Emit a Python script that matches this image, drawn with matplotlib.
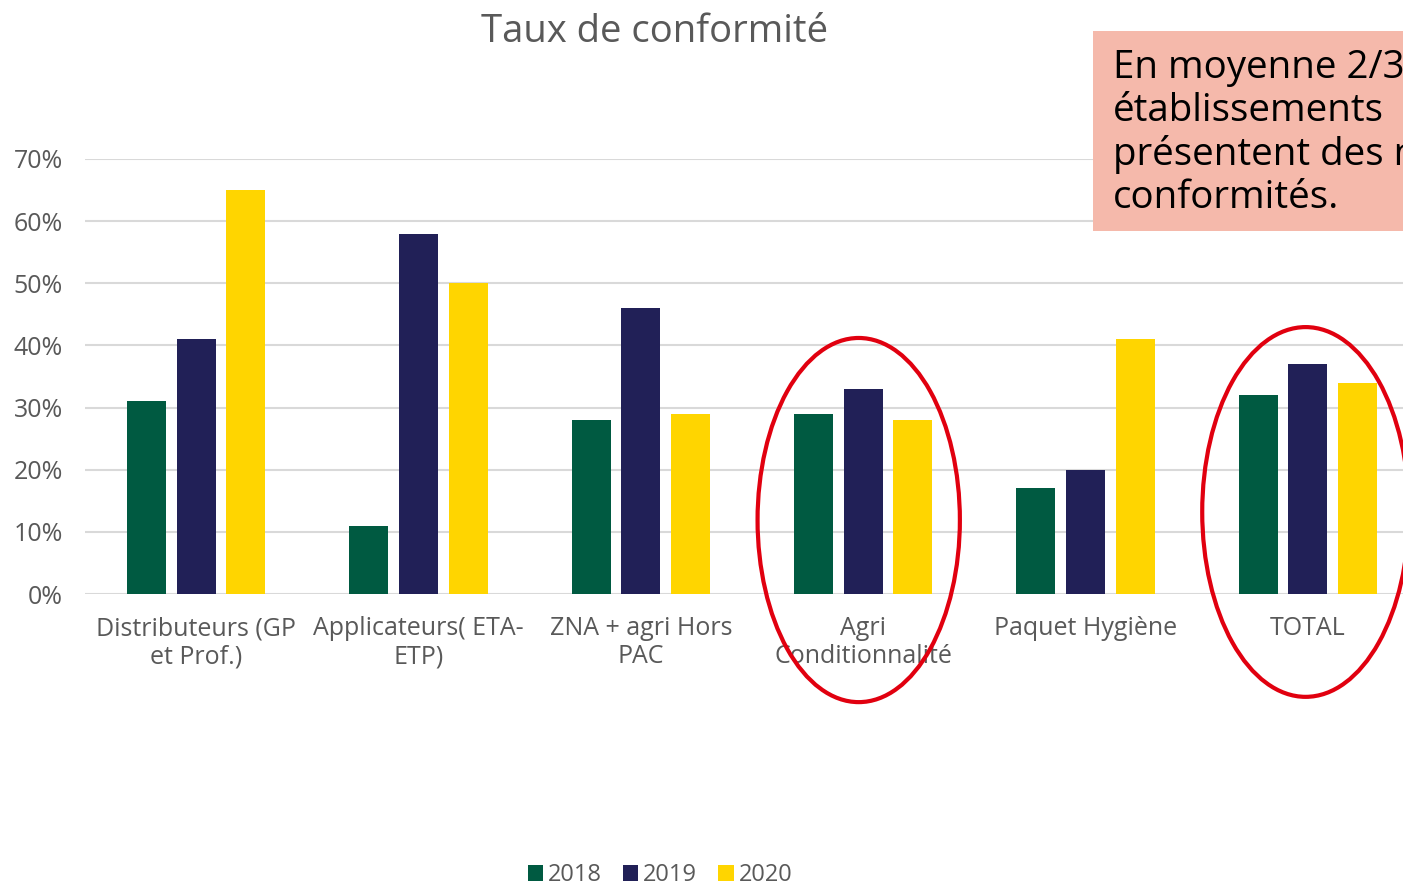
import numpy as np
import matplotlib.pyplot as plt
from matplotlib.patches import Ellipse, Rectangle
from matplotlib.ticker import PercentFormatter

# Données
categories = ['Distributeurs (GP\net Prof.)', 'Applicateurs( ETA-\nETP)', 'ZNA + agri Hors\nPAC',
              'Agri\nConditionnalité', 'Paquet Hygiène', 'TOTAL']
years = ['2018', '2019', '2020']
taux_2018 = [0.31, 0.11, 0.28, 0.29, 0.17, 0.32]
taux_2019 = [0.41, 0.58, 0.46, 0.33, 0.20, 0.37]
taux_2020 = [0.65, 0.50, 0.29, 0.28, 0.41, 0.34]
colors = ['#005A41', '#212057', '#FFD500']

plt.rcParams['font.family'] = ['Open Sans', 'DejaVu Sans']
grey = '#595959'

fig = plt.figure(figsize=(14.03, 8.88), dpi=100)
ax = fig.add_axes([85 / 1403, 294 / 888, 1334 / 1403, 435 / 888])

x = np.arange(len(categories))
w = 0.175
step = 0.223
for i, (vals, lab, col) in enumerate(zip([taux_2018, taux_2019, taux_2020], years, colors)):
    ax.bar(x + (i - 1) * step, vals, width=w, color=col, label=lab, zorder=3)

ax.set_xlim(-0.5, len(categories) - 0.5)
ax.set_ylim(0, 0.7)
ax.set_yticks(np.arange(0, 0.71, 0.1))
ax.yaxis.set_major_formatter(PercentFormatter(1.0, decimals=0))
ax.set_xticks(x)
ax.set_xticklabels(categories, linespacing=1.17)
ax.tick_params(axis='x', length=0, labelsize=18, colors=grey, pad=16)
ax.tick_params(axis='y', length=0, labelsize=18, colors=grey, pad=16)
ax.grid(axis='y', color='#D9D9D9', linewidth=1.5, zorder=0)
for s in ax.spines.values():
    s.set_visible(False)

fig.text(655 / 1403, 1 - 32 / 888, 'Taux de conformité', ha='center', va='center',
         fontsize=27.5, color=grey)

# ellipses rouges
for cx, cy, ew, eh in [(2.98, 0.119, 0.91, 0.586), (4.99, 0.132, 0.93, 0.595)]:
    ax.add_patch(Ellipse((cx, cy), ew, eh, fill=False, edgecolor='#E1000F',
                         linewidth=3, clip_on=False, zorder=5))

# encadré
fig.patches.append(Rectangle((1093 / 1403, 1 - 231 / 888), 0.3, 200 / 888,
                             transform=fig.transFigure, facecolor='#F5B9AB',
                             edgecolor='none', zorder=1))
fig.text(1113 / 1403, 1 - 133 / 888,
         'En moyenne 2/3 des\nétablissements\nprésentent des non\nconformités.',
         ha='left', va='center', fontsize=27.7, color='black', linespacing=1.18, zorder=2)

fig.legend(loc='center', bbox_to_anchor=(660 / 1403, 13 / 888), ncol=3, frameon=False,
           fontsize=17, labelcolor=grey, handlelength=0.65, handleheight=0.65,
           handletextpad=0.2, columnspacing=0.9, borderaxespad=0)

fig.savefig('out.png', dpi=100)
